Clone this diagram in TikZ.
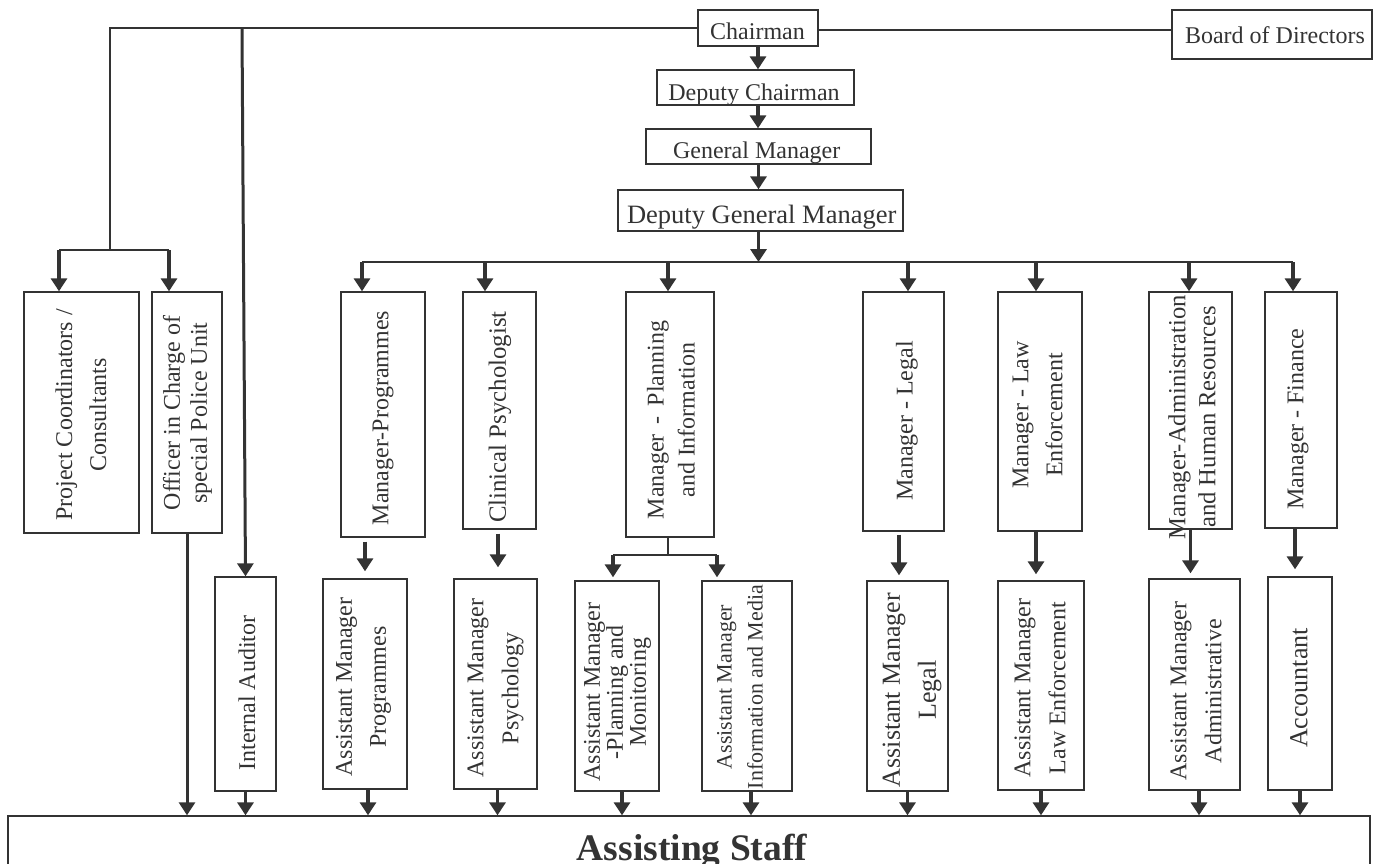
\documentclass[tikz,border=0pt]{standalone}
\usepackage{fontspec}
\setmainfont{Liberation Serif}
\usetikzlibrary{arrows.meta}
\definecolor{ink}{RGB}{51,51,51}
\begin{document}
\begin{tikzpicture}[x=1pt,y=-1pt,
  box/.style={draw=ink, line width=1.4pt, inner sep=0pt},
  ht/.style={text=ink, inner sep=0pt, anchor=base, font=\fontsize{24}{28}\selectfont},
  vt/.style={text=ink, inner sep=0pt, rotate=90, align=center, font=\fontsize{24}{34}\selectfont},
  thinline/.style={draw=ink, line width=1.3pt},
  arr/.style={draw=ink, line width=3.5pt, -{Triangle[width=16pt,length=13pt]}},
  tharr/.style={draw=ink, line width=3pt, -{Triangle[width=16pt,length=13pt]}}]
\useasboundingbox (0,0) rectangle (1381,863);
% ---------- top boxes
\node[box, minimum width=120pt, minimum height=36pt] (ch) at (758,28) {};
\node[ht] (cht) at (757.5,39) {Chairman};
\node[box, minimum width=200pt, minimum height=49pt] (bod) at (1272,34.5) {};
\node[ht] (bodt) at (1275,43) {Board of Directors};
\node[box, minimum width=197pt, minimum height=35pt] (dc) at (755.5,87.5) {};
\node[ht] (dct) at (754,100) {Deputy Chairman};
\node[box, minimum width=225pt, minimum height=35pt] (gm) at (758.5,146.5) {};
\node[ht] (gmt) at (756.7,158) {General Manager};
\node[box, minimum width=285pt, minimum height=41pt] (dgm) at (760.5,210.5) {};
\node[ht, font=\fontsize{26.5}{30}\selectfont] (dgmt) at (761.7,223) {Deputy General Manager};
% ---------- middle row boxes
\node[box, minimum width=115pt, minimum height=241pt] (pc) at (81.5,412.5) {};
\node[vt] (pct) at (81,415) {Project Coordinators /\\Consultants};
\node[box, minimum width=70pt, minimum height=241pt] (off) at (187,412.5) {};
\node[vt, font=\fontsize{24}{27}\selectfont] (offt) at (187.5,413) {Officer in Charge of\\special Police Unit};
\node[box, minimum width=84pt, minimum height=245pt] (mp) at (383,414.5) {};
\node[vt] (mpt) at (383,418) {Manager-Programmes};
\node[box, minimum width=73pt, minimum height=237pt] (cp) at (499.5,410.5) {};
\node[vt, font=\fontsize{24.8}{34}\selectfont] (cpt) at (500,417) {Clinical Psychologist};
\node[box, minimum width=88pt, minimum height=245pt] (mpi) at (670,414.5) {};
\node[vt, font=\fontsize{24}{31}\selectfont] (mpit) at (671,420) {Manager \,-\, Planning\\and Information};
\node[box, minimum width=81pt, minimum height=239pt] (ml) at (903.5,411.5) {};
\node[vt] (mlt) at (907,421) {Manager - Legal};
\node[box, minimum width=84pt, minimum height=239pt] (mle) at (1040,411.5) {};
\node[vt] (mlet) at (1037.5,415) {Manager - Law\\Enforcement};
\node[box, minimum width=83pt, minimum height=237pt] (ma) at (1190.5,410.5) {};
\node[vt, font=\fontsize{24.6}{30}\selectfont] (mat) at (1192,417) {Manager-Administration\\and Human Resources};
\node[box, minimum width=72pt, minimum height=236pt] (mf) at (1301,410) {};
\node[vt] (mft) at (1298,419) {Manager - Finance};
% ---------- bottom row boxes
\node[box, minimum width=61pt, minimum height=214pt] (ia) at (245.5,684) {};
\node[vt] (iat) at (247,693) {Internal Auditor};
\node[box, minimum width=84pt, minimum height=210pt] (amp) at (365,684) {};
\node[vt] (ampt) at (363.5,687) {Assistant Manager\\Programmes};
\node[box, minimum width=83pt, minimum height=210pt] (amps) at (495.5,684) {};
\node[vt, font=\fontsize{24}{35}\selectfont] (ampst) at (495.5,688) {Assistant Manager\\Psychology};
\node[box, minimum width=84pt, minimum height=210pt] (ampl) at (617,686) {};
\node[vt, font=\fontsize{24}{23}\selectfont] (amplt) at (617.5,692) {Assistant Manager\\-Planning and\\Monitoring};
\node[box, minimum width=90pt, minimum height=210pt] (ami) at (747,686) {};
\node[vt, font=\fontsize{22}{31}\selectfont] (amit) at (740,687) {Assistant Manager\\Information and Media};
\node[box, minimum width=81pt, minimum height=210pt] (aml) at (907.5,686) {};
\node[vt, font=\fontsize{26}{36}\selectfont] (amlt) at (912,690) {Assistant Manager\\Legal};
\node[box, minimum width=86pt, minimum height=209pt] (amle) at (1041,685.5) {};
\node[vt, font=\fontsize{24}{35}\selectfont] (amlet) at (1040,688) {Assistant Manager\\Law Enforcement};
\node[box, minimum width=91pt, minimum height=211pt] (ama) at (1194.5,684.5) {};
\node[vt, font=\fontsize{24}{35}\selectfont] (amat) at (1196,691) {Assistant Manager\\Administrative};
\node[box, minimum width=64pt, minimum height=213pt] (acc) at (1300,683.5) {};
\node[vt, font=\fontsize{26}{34}\selectfont] (acct) at (1299,688) {Accountant};
% ---------- assisting staff
\node[box, minimum width=1362pt, minimum height=100pt] (as) at (689,866) {};
\node[text=ink, inner sep=0pt, anchor=base, font=\bfseries\fontsize{37.5}{40}\selectfont] (ast) at (692,860) {Assisting Staff};
% ---------- coordinates
\coordinate (lft) at (110,250);
\coordinate (pcT) at (59,250);
\coordinate (offT) at (169,250);
\coordinate (iatop) at (242,29);
\coordinate (busL) at (362,262);
\coordinate (busR) at (1293,262);
\coordinate (t2) at (485,262);
\coordinate (t3) at (668,262);
\coordinate (t4) at (908,262);
\coordinate (t5) at (1036,262);
\coordinate (t6) at (1189,262);
\coordinate (pjL) at (613,555);
\coordinate (pjR) at (717,555);
% ---------- top chain
\draw[arr] (ch.south) -- (ch.south |- dc.north);
\draw[arr] (dc.south -| ch.south) -- (gm.north -| ch.south);
\draw[arr] (gm.south) -- (gm.south |- dgm.north);
\draw[arr] (dgm.south -| gm.south) -- (gm.south |- busL);
\draw[thinline] (busL) -- (busR);
\draw[thinline] ([yshift=-2pt]ch.east) -- ([yshift=-2pt]ch.east -| bod.west);
% ---------- left branch
\draw[thinline] (ch.west) -| (lft);
\draw[thinline] (pcT) -- (offT);
\draw[arr] (pcT) -- (pcT |- pc.north);
\draw[arr] (offT) -- (offT |- off.north);
\draw[tharr] (iatop) -- (ia.north);
\draw[tharr] (off.south) -- (off.south |- as.north);
% ---------- bus to managers
\draw[arr] (busL) -- (busL |- mp.north);
\draw[arr] (t2) -- (t2 |- cp.north);
\draw[arr] (t3) -- (t3 |- mpi.north);
\draw[arr] (t4) -- (t4 |- ml.north);
\draw[arr] (t5) -- (t5 |- mle.north);
\draw[arr] (t6) -- (t6 |- ma.north);
\draw[arr] (busR) -- (busR |- mf.north);
% ---------- managers to assistants
\draw[arr, shorten <=4pt, shorten >=7pt] (mp.south -| amp.north) -- (amp.north);
\draw[arr, shorten <=4pt, shorten >=11pt] ([xshift=-1.5pt]cp.south) -- ([xshift=-1.5pt]cp.south |- amps.north);
\draw[thinline] (mpi.south -| t3) -- (t3 |- pjL);
\draw[thinline] (pjL) -- (pjR);
\draw[arr, shorten >=3pt] (pjL) -- (pjL |- ampl.north);
\draw[arr, shorten >=3pt] (pjR) -- (pjR |- ami.north);
\draw[arr, shorten <=3pt, shorten >=5pt] ([xshift=-4.5pt]ml.south) -- ([xshift=-4.5pt]ml.south |- aml.north);
\draw[arr, shorten >=6pt] ([xshift=-4pt]mle.south) -- ([xshift=-4pt]mle.south |- amle.north);
\draw[arr, shorten >=5pt] (ma.south) -- (ma.south |- ama.north);
\draw[arr, shorten >=7pt] ([xshift=-6pt]mf.south) -- ([xshift=-6pt]mf.south |- acc.north);
% ---------- to assisting staff
\draw[arr] (ia.south) -- (ia.south |- as.north);
\draw[arr] ([xshift=3pt]amp.south) -- ([xshift=3pt]amp.south |- as.north);
\draw[arr] ([xshift=2pt]amps.south) -- ([xshift=2pt]amps.south |- as.north);
\draw[arr] ([xshift=5pt]ampl.south) -- ([xshift=5pt]ampl.south |- as.north);
\draw[arr] ([xshift=4pt]ami.south) -- ([xshift=4pt]ami.south |- as.north);
\draw[arr] (aml.south) -- (aml.south |- as.north);
\draw[arr] (amle.south) -- (amle.south |- as.north);
\draw[arr] ([xshift=4.5pt]ama.south) -- ([xshift=4.5pt]ama.south |- as.north);
\draw[arr] (acc.south) -- (acc.south |- as.north);
\end{tikzpicture}
\end{document}
